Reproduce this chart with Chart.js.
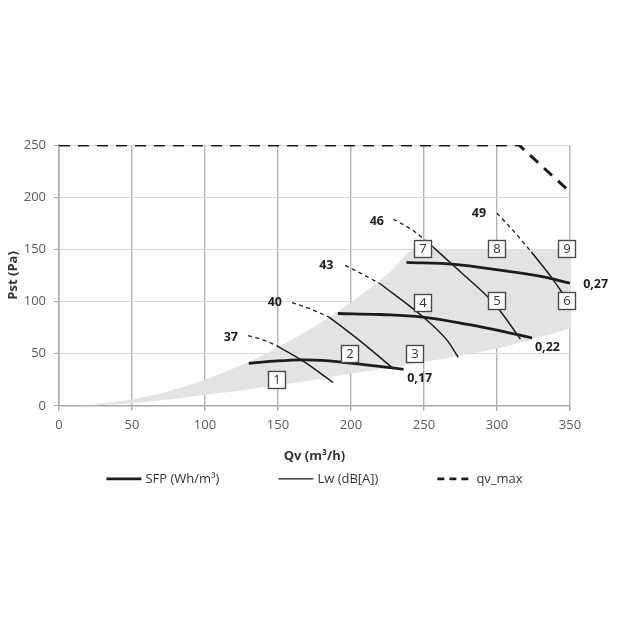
<!DOCTYPE html>
<html><head><meta charset="utf-8">
<script src="https://cdn.jsdelivr.net/npm/chart.js@4.4.1/dist/chart.umd.min.js"></script>
<style>html,body{margin:0;padding:0;background:#fff;}#wrap{width:625px;height:625px;}</style>
</head><body><div id="wrap"><canvas id="c" width="625" height="625"></canvas></div>
<script>
// ---- data ----
const xTicks = [0, 50, 100, 150, 200, 250, 300, 350];
const yTicks = [0, 50, 100, 150, 200, 250];

// working area (grey)
const areaX     = [0, 25, 50, 75, 100, 125, 150, 175, 200, 225, 245, 275, 300, 325, 350];
const areaUpper = [0, 1.5, 6, 14, 25, 39, 56, 76, 99, 126, 150, 150, 150, 150, 150];
const areaLower = [0, 0.5, 2.5, 6, 10.5, 15, 20, 25, 31, 36, 41, 48, 55, 64, 74];

// SFP curves
const sfp017X = [130, 150, 167, 180, 206, 236];
const sfp017Y = [40.7, 43, 44, 43.5, 40, 35];
const sfp022X = [191, 220, 249, 280, 313.5, 324];
const sfp022Y = [88.5, 87.5, 85, 78, 68.5, 65];
const sfp027X = [238, 271, 302, 330, 350];
const sfp027Y = [137.5, 135.6, 130, 124, 117.6];
const sfpLabels = ['0,17', '0,22', '0,27'];
const sfpLabelX = [238.5, 326, 359];
const sfpLabelY = [26, 56, 116];

// Lw curves (dashed part outside area, solid part inside)
const lw37DashX = [129.5, 140, 149];   const lw37DashY = [67.3, 63, 57.7];
const lw37X = [149, 167, 187.7];       const lw37Y = [57.7, 43, 22.4];
const lw40DashX = [159.6, 172, 185];   const lw40DashY = [99, 93, 85];
const lw40X = [185, 206, 228];         const lw40Y = [85, 62.5, 36.8];
const lw43DashX = [196, 208, 220];     const lw43DashY = [134.6, 126, 117];
const lw43X = [220, 249.5, 266, 273.5]; const lw43Y = [117, 85, 62.5, 46.4];
const lw46DashX = [229, 242.5, 256];   const lw46DashY = [179, 168, 152.5];
const lw46X = [256, 276, 294, 301, 316]; const lw46Y = [152.5, 127, 104, 93, 64];
const lw49DashX = [300, 311, 323.6];   const lw49DashY = [184.6, 168, 147.4];
const lw49X = [323.6, 338.4, 345];     const lw49Y = [147.4, 121, 107.7];
const lwLabels = ['37', '40', '43', '46', '49'];
const lwLabelX = [122.6, 152.7, 188, 222.6, 292.5];
const lwLabelY = [66, 99, 135, 177, 184.6];

// qv_max
const qvX = [0, 315, 350];
const qvY = [250, 250, 205];

// numbered boxes
const boxNum = ['1', '2', '3', '4', '5', '6', '7', '8', '9'];
const boxX = [149, 199, 244, 249, 300, 348, 249, 300, 348];
const boxY = [25, 50, 50, 99, 100, 100, 150, 150, 150];

const legendText = ['SFP (Wh/m\u00b3)', 'Lw (dB[A])', 'qv_max'];

// ---- build ----
const INK = '#1c1c1c';
const pts = (xs, ys) => xs.map((x, i) => ({x: x, y: ys[i]}));
const base = {showLine: true, pointRadius: 0, pointHoverRadius: 0, fill: false, cubicInterpolationMode: 'monotone'};

const datasets = [];
function add(xs, ys, o) { datasets.push(Object.assign({}, base, {data: pts(xs, ys)}, o)); }

add(qvX, qvY, {borderColor: INK, borderWidth: 3, borderDash: [11, 8], cubicInterpolationMode: 'default', tension: 0});
add(sfp017X, sfp017Y, {borderColor: INK, borderWidth: 2.8, cubicInterpolationMode: 'default', tension: 0.4});
add(sfp022X, sfp022Y, {borderColor: INK, borderWidth: 2.8, cubicInterpolationMode: 'default', tension: 0.4});
add(sfp027X, sfp027Y, {borderColor: INK, borderWidth: 2.8, cubicInterpolationMode: 'default', tension: 0.4});
[[lw37DashX, lw37DashY, lw37X, lw37Y], [lw40DashX, lw40DashY, lw40X, lw40Y],
 [lw43DashX, lw43DashY, lw43X, lw43Y], [lw46DashX, lw46DashY, lw46X, lw46Y],
 [lw49DashX, lw49DashY, lw49X, lw49Y]].forEach(a => {
  add(a[0], a[1], {borderColor: INK, borderWidth: 1.3, borderDash: [4, 3.5]});
  add(a[2], a[3], {borderColor: INK, borderWidth: 1.5});
});
add(areaX, areaLower, {borderWidth: 0, borderColor: 'rgba(0,0,0,0)', order: 10});
add(areaX, areaUpper, {borderWidth: 0, borderColor: 'rgba(0,0,0,0)', backgroundColor: '#e3e3e3', fill: '-1', order: 11});

const legendStyle = [{w: 2.8, dash: []}, {w: 1.3, dash: []}, {w: 2.8, dash: [7, 5]}];

const annotations = {
  id: 'annot',
  afterDatasetsDraw(chart) {
    const ctx = chart.ctx, xs = chart.scales.x, ys = chart.scales.y;
    ctx.save();
    ctx.fillStyle = '#1e1e1e';
    ctx.font = 'bold 12.5px "Open Sans"';
    ctx.textBaseline = 'middle';
    ctx.textAlign = 'right';
    lwLabels.forEach((t, i) => ctx.fillText(t, xs.getPixelForValue(lwLabelX[i]), ys.getPixelForValue(lwLabelY[i])));
    ctx.textAlign = 'left';
    sfpLabels.forEach((t, i) => ctx.fillText(t, xs.getPixelForValue(sfpLabelX[i]), ys.getPixelForValue(sfpLabelY[i])));
    ctx.font = '13px "Open Sans"';
    ctx.textAlign = 'center';
    boxNum.forEach((t, i) => {
      const px = Math.round(xs.getPixelForValue(boxX[i])), py = Math.round(ys.getPixelForValue(boxY[i]));
      ctx.fillStyle = '#ffffff';
      ctx.fillRect(px - 8.5, py - 8.5, 17, 17);
      ctx.strokeStyle = '#4a4a4a';
      ctx.lineWidth = 1.4;
      ctx.strokeRect(px - 8.5, py - 8.5, 17, 17);
      ctx.fillStyle = '#333333';
      ctx.fillText(t, px, py + 0.5);
    });
    ctx.restore();
  },
  afterDraw(chart) {
    // legend row below the x-axis title
    const ctx = chart.ctx;
    const area = chart.chartArea;
    const y = area.bottom + 73;
    const lineLen = 35, gapText = 4, gapItem = 59;
    ctx.save();
    ctx.font = '13px "Open Sans"';
    ctx.textBaseline = 'middle';
    ctx.textAlign = 'left';
    const widths = legendText.map(t => lineLen + gapText + ctx.measureText(t).width);
    const total = widths.reduce((a, b) => a + b, 0) + gapItem * (legendText.length - 1);
    let x = (area.left + area.right) / 2 - total / 2;
    legendText.forEach((t, i) => {
      ctx.beginPath();
      ctx.setLineDash(legendStyle[i].dash);
      ctx.lineWidth = legendStyle[i].w;
      ctx.strokeStyle = INK;
      ctx.moveTo(x, y);
      ctx.lineTo(x + lineLen, y);
      ctx.stroke();
      ctx.setLineDash([]);
      ctx.fillStyle = '#333';
      ctx.fillText(t, x + lineLen + gapText, y);
      x += widths[i] + gapItem;
    });
    ctx.restore();
  }
};

new Chart(document.getElementById('c'), {
  type: 'scatter',
  data: {datasets: datasets},
  plugins: [annotations],
  options: {
    responsive: false,
    animation: false,
    devicePixelRatio: 1,
    layout: {padding: {left: 0, right: 55, top: 145, bottom: 161}},
    plugins: {
      filler: {drawTime: 'beforeDatasetsDraw'},
      tooltip: {enabled: false},
      legend: {display: false}
    },
    scales: {
      x: {
        type: 'linear', min: 0, max: 350,
        afterBuildTicks: s => { s.ticks = xTicks.map(v => ({value: v})); },
        ticks: {color: '#595959', font: {family: 'Open Sans', size: 13}, padding: 7},
        grid: {color: '#b3b3b3', lineWidth: 1.4, tickLength: 5, tickColor: '#a6a6a6'},
        border: {display: true, color: '#a6a6a6', width: 1.4},
        title: {display: true, text: 'Qv (m\u00b3/h)', color: '#333', font: {family: 'Open Sans', size: 13, weight: 'bold'}, padding: {top: 8, bottom: 0}}
      },
      y: {
        type: 'linear', min: 0, max: 250,
        afterBuildTicks: s => { s.ticks = yTicks.map(v => ({value: v})); },
        afterFit: s => { s.width = 59; },
        ticks: {color: '#595959', font: {family: 'Open Sans', size: 13}, padding: 8},
        grid: {color: '#d6d6d6', lineWidth: 1, tickLength: 5, tickColor: '#a6a6a6'},
        border: {display: true, color: '#a6a6a6', width: 1.4},
        title: {display: true, text: 'Pst (Pa)', color: '#333', font: {family: 'Open Sans', size: 13, weight: 'bold'}, padding: {top: 5, bottom: 4}}
      }
    }
  }
});
</script></body></html>
